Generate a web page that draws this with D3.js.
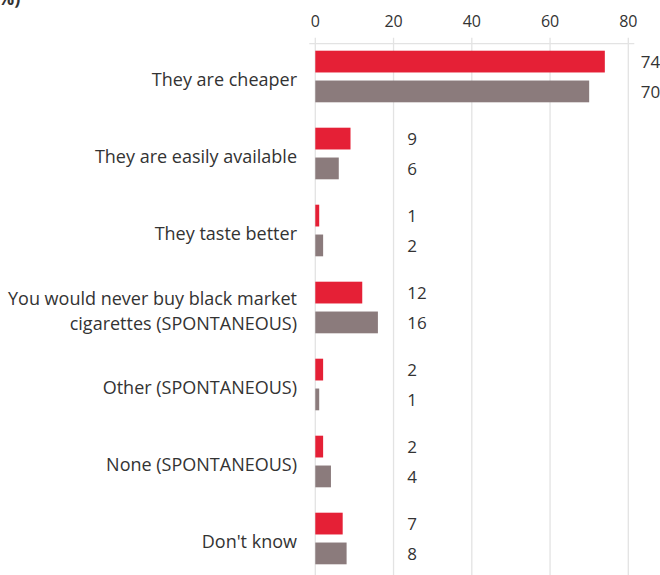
<!DOCTYPE html>
<html>
<head>
<meta charset="utf-8">
<script src="https://cdn.jsdelivr.net/npm/d3@7"></script>
<style>
  html, body { margin: 0; padding: 0; background: #fff; }
  svg { display: block; }
  text { font-family: "Open Sans", "Noto Sans", sans-serif; fill: #333; }
</style>
</head>
<body>
<svg id="chart" width="660" height="575"></svg>
<script>
// Reasons for buying black market cigarettes, two survey waves (%)
const categories = [
  ["They are cheaper"],
  ["They are easily available"],
  ["They taste better"],
  ["You would never buy black market", "cigarettes (SPONTANEOUS)"],
  ["Other (SPONTANEOUS)"],
  ["None (SPONTANEOUS)"],
  ["Don't know"]
];
const seriesNames = ["current", "previous"];
const currentValues = [74, 9, 1, 12, 2, 2, 7];
const previousValues = [70, 6, 2, 16, 1, 4, 8];
const tickValues = [0, 20, 40, 60, 80];
const colors = ["#e52036", "#8b7b7c"];

const svg = d3.select("#chart");
const axisY = 43.7;

const x = d3.scaleLinear().domain([0, 80]).range([315.3, 628.3]);
const y = d3.scaleBand()
  .domain(d3.range(categories.length))
  .range([axisY, axisY + 77 * categories.length])
  .paddingInner(0).paddingOuter(0);
const ySub = d3.scaleBand()
  .domain(seriesNames)
  .range([7, 58.6])
  .paddingInner(0.27).paddingOuter(0);

// vertical gridlines with short ticks above the axis line
const grid = svg.append("g");
grid.selectAll("line.grid")
  .data(tickValues)
  .join("line")
  .attr("x1", d => x(d)).attr("x2", d => x(d))
  .attr("y1", axisY - 6).attr("y2", 575)
  .attr("stroke", "#e3e3e3").attr("stroke-width", 1.3);
grid.append("line")
  .attr("x1", x(0) - 6).attr("x2", x(80) + 6)
  .attr("y1", axisY).attr("y2", axisY)
  .attr("stroke", "#e3e3e3").attr("stroke-width", 1.3);
grid.selectAll("text.tick")
  .data(tickValues)
  .join("text")
  .attr("class", "tick")
  .attr("x", d => x(d)).attr("y", 27)
  .attr("text-anchor", "middle")
  .style("font-size", "16px")
  .text(d => d);

// heading line running off the top edge
svg.append("text")
  .attr("x", -2).attr("y", 5)
  .style("font-size", "18px").style("font-weight", "bold")
  .text("%)");

const rows = categories.map((c, i) => ({
  label: c,
  values: [currentValues[i], previousValues[i]]
}));

const groups = svg.selectAll("g.row")
  .data(rows)
  .join("g")
  .attr("class", "row")
  .attr("transform", (d, i) => `translate(0,${y(i)})`);

groups.selectAll("rect")
  .data(d => d.values.map((v, j) => ({ v, s: seriesNames[j], j })))
  .join("rect")
  .attr("x", x(0))
  .attr("y", d => ySub(d.s))
  .attr("width", d => x(d.v) - x(0))
  .attr("height", ySub.bandwidth())
  .attr("fill", d => colors[d.j]);

// value labels share one column per category; pushed past long bars
const labelCol = x(23.5);
groups.selectAll("text.val")
  .data(d => {
    const end = x(d3.max(d.values));
    const lx = end + 10 > labelCol ? end + 36 : labelCol;
    return d.values.map((v, j) => ({ v, s: seriesNames[j], lx }));
  })
  .join("text")
  .attr("class", "val")
  .attr("x", d => d.lx)
  .attr("y", d => ySub(d.s) + ySub.bandwidth() / 2)
  .attr("dy", "0.36em")
  .style("font-size", "17px")
  .text(d => d.v);

groups.each(function(d) {
  const g = d3.select(this);
  const n = d.label.length;
  const lineH = 25;
  const mid = 7 + 51.6 / 2 + 10;
  const t = g.append("text")
    .attr("text-anchor", "end")
    .style("font-size", "18px");
  d.label.forEach((line, k) => {
    t.append("tspan")
      .attr("x", 297)
      .attr("y", mid + (k - (n - 1) / 2) * lineH)
      .text(line);
  });
});
</script>
</body>
</html>
